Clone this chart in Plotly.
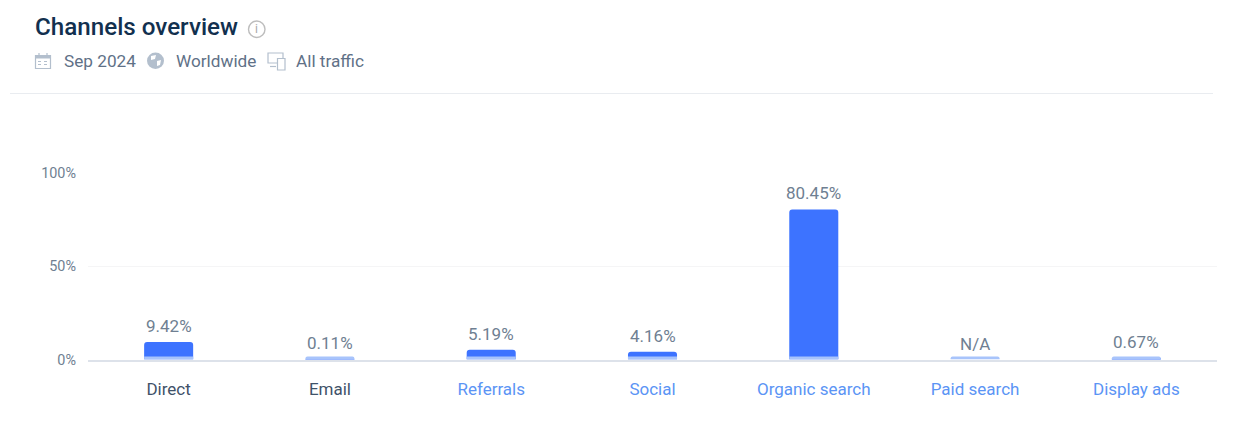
import plotly.graph_objects as go

W, H = 1241, 441

# Channel shares for the month
channels = ["Direct", "Email", "Referrals", "Social", "Organic search", "Paid search", "Display ads"]
shares = [9.42, 0.11, 5.19, 4.16, 80.45, None, 0.67]
share_labels = ["9.42%", "0.11%", "5.19%", "4.16%", "80.45%", "N/A", "0.67%"]
base_stub = [1.6, 1.6, 1.6, 1.6, 1.6, 1.6, 1.6]
label_colors = ["#3f5269", "#3f5269", "#5b94f5", "#5b94f5", "#5b94f5", "#5b94f5", "#5b94f5"]
y_ticks = [0, 50, 100]
y_tick_labels = ["0%", "50%", "100%"]

FONT = "Roboto, Arial, sans-serif"
BLUE = "#3d73ff"
LIGHT = "#a8c4fb"
MUTED = "#6f7f92"
ICON = "#b3bfcd"


def px(x):
    return x / W


def py(y):
    return 1 - y / H


def rect(x0, y0, x1, y1, line=ICON, fill=None, width=1.2):
    return dict(type="rect", xref="paper", yref="paper", x0=px(x0), x1=px(x1), y0=py(y0), y1=py(y1),
                line=dict(color=line, width=width), fillcolor=fill or "rgba(0,0,0,0)")


def circle(x0, y0, x1, y1, line=ICON, fill=None, width=1.2):
    d = rect(x0, y0, x1, y1, line, fill, width)
    d["type"] = "circle"
    return d


def hline(x0, x1, y, color, width=1, dash="solid"):
    return dict(type="line", xref="paper", yref="paper", x0=px(x0), x1=px(x1), y0=py(y), y1=py(y),
                line=dict(color=color, width=width, dash=dash))


def vline(x, y0, y1, color, width=1):
    return dict(type="line", xref="paper", yref="paper", x0=px(x), x1=px(x), y0=py(y0), y1=py(y1),
                line=dict(color=color, width=width))


def label(x, y, text, size, color, weight=400):
    return dict(xref="paper", yref="paper", x=px(x), y=py(y), text=text, showarrow=False,
                xanchor="left", yanchor="middle", xshift=-1,
                font=dict(family=FONT, size=size, color=color, weight=weight))


fig = go.Figure()

# Value bars, with a pale stub along the baseline for every channel
fig.add_bar(x=channels, y=shares, marker=dict(color=BLUE, line=dict(width=0)), width=0.304, hoverinfo="skip")
fig.add_bar(x=channels, y=base_stub, marker=dict(color=LIGHT, line=dict(width=0)), width=0.304, hoverinfo="skip")

shapes = [hline(10, 1213, 93.5, "#e9ecf0")]

# Info icon next to the title
shapes.append(circle(248.5, 21, 265, 37.5, line="#bdbdbd", width=1.4))

# Calendar icon
shapes += [rect(35.5, 55.5, 50.5, 68.5), rect(35.5, 55.5, 50.5, 58.5, fill=ICON, width=0)]
shapes += [vline(39, 53, 56, ICON, 1.2), vline(47, 53, 56, ICON, 1.2)]
shapes += [hline(38, 48, 61.5, ICON, 1.2, "dot"), hline(38, 48, 64.5, ICON, 1.2, "dot")]

# Globe icon
shapes.append(circle(147, 52.5, 164, 69, fill=ICON, width=0))
shapes.append(dict(type="path", xref="paper", yref="paper",
                   path=f"M {px(151)} {py(56)} L {px(156)} {py(55)} L {px(155)} {py(59)} L {px(151)} {py(60)} Z "
                        f"M {px(157)} {py(61)} L {px(161)} {py(60)} L {px(160)} {py(65)} L {px(157)} {py(66)} Z",
                   fillcolor="#ffffff", line=dict(width=0)))

# Device icon: a monitor outline behind a phone
shapes += [rect(268, 53, 283, 63, width=1.2), rect(277.5, 58.5, 285, 70, fill="#ffffff", width=1.2)]
shapes += [hline(270, 276, 66.5, ICON, 1.2)]

annotations = [
    label(33.5, 27, "Channels overview", 24.2, "#12304f", 500),
    label(62.5, 60.5, "Sep 2024", 17.2, "#5f7187"),
    label(174.5, 60.5, "Worldwide", 17.2, "#5f7187"),
    label(295, 60.5, "All traffic", 17.2, "#5f7187"),
    dict(xref="paper", yref="paper", x=px(256.8), y=py(29), text="i", showarrow=False,
         xanchor="center", yanchor="middle", font=dict(family=FONT, size=12, color="#a9a9a9")),
]

# Value labels float a fixed distance above the top of each bar
for name, value, text in zip(channels, shares, share_labels):
    annotations.append(dict(x=name, y=value or 0, xref="x", yref="y", text=text, showarrow=False,
                            yanchor="middle", yshift=16, font=dict(family=FONT, size=17, color=MUTED)))

tick_text = [f'<span style="color:{c}">{n}</span>' for n, c in zip(channels, label_colors)]

fig.update_layout(
    width=W, height=H, autosize=False,
    margin=dict(l=0, r=0, t=0, b=0, autoexpand=False),
    paper_bgcolor="#ffffff", plot_bgcolor="#ffffff",
    barmode="overlay", barcornerradius=3, showlegend=False,
    shapes=shapes, annotations=annotations,
    font=dict(family=FONT),
    xaxis=dict(domain=[px(88), px(1217)], tickmode="array", tickvals=channels, ticktext=tick_text,
               tickfont=dict(family=FONT, size=17), ticks="", ticklabelstandoff=13, automargin=False,
               showgrid=False, showline=True, linecolor="#dde2ea", linewidth=2, zeroline=False),
    yaxis=dict(domain=[py(359.5), py(173)], range=[0, 100], tickmode="array", tickvals=y_ticks,
               ticktext=y_tick_labels, tickfont=dict(family=FONT, size=14.4, color=MUTED), ticks="",
               ticklabelstandoff=11, automargin=False, showgrid=True, gridcolor="#f5f5f6", gridwidth=1,
               zeroline=False, showline=False),
)

fig.write_html("out.html", config=dict(displayModeBar=False))
